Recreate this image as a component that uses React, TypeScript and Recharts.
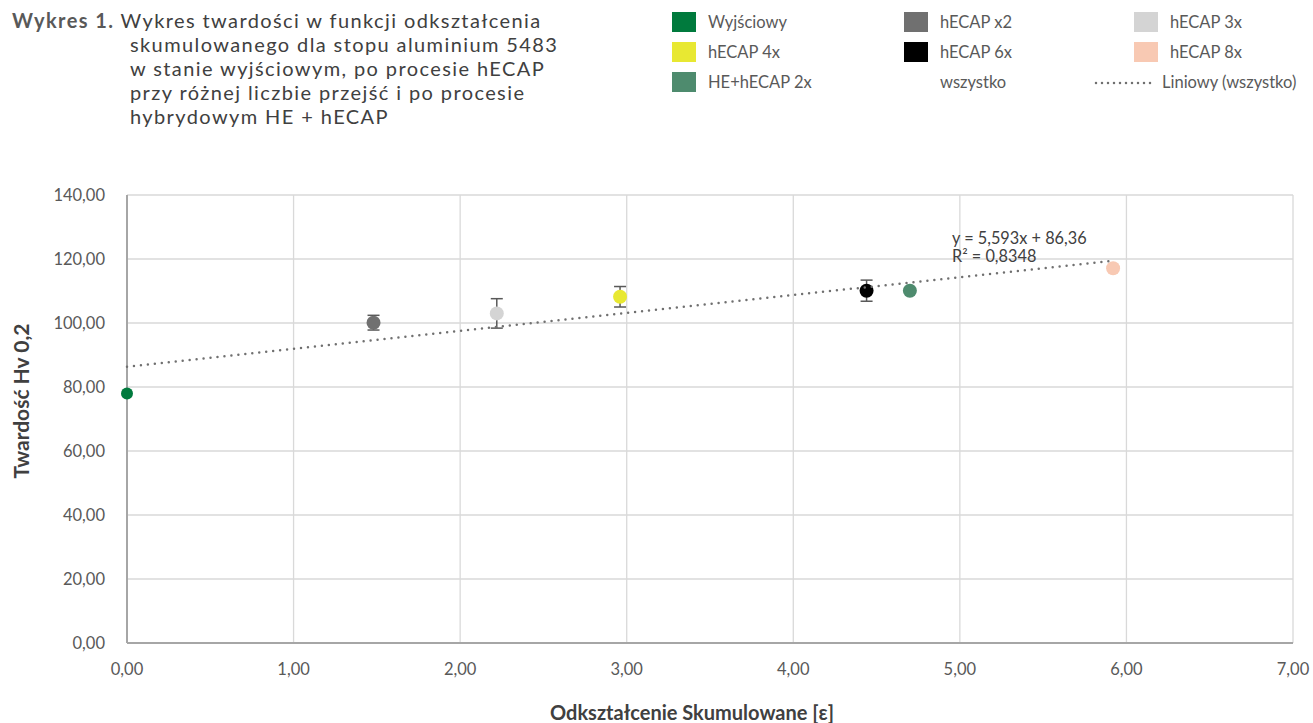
import React from 'react';
import {
  ScatterChart,
  Scatter,
  XAxis,
  YAxis,
  CartesianGrid,
  ErrorBar
} from 'recharts';

// measured points (strain, hardness, +/- error)
const seriesNames = ['Wyjściowy', 'hECAP x2', 'hECAP 3x', 'hECAP 4x', 'hECAP 6x', 'hECAP 8x', 'HE+hECAP 2x'];
const strainValues = [0.0, 1.48, 2.22, 2.96, 4.44, 5.92, 4.7];
const hardnessValues = [78.0, 100.1, 103.0, 108.2, 110.1, 117.1, 110.1];
const hardnessErrors = [0, 2.3, 4.6, 3.2, 3.3, 0, 0];
const seriesColors = ['#007A3D', '#707070', '#D4D4D4', '#E8E832', '#000000', '#F8C9B3', '#4E8B6E'];
const markerRadius = [6, 7, 7, 7, 7, 7, 7];

// linear trend of all points
const trendSlope = 5.593;
const trendIntercept = 86.36;
const trendFrom = 0;
const trendTo = 5.92;

const xTicks = [0, 1, 2, 3, 4, 5, 6, 7];
const yTicks = [0, 20, 40, 60, 80, 100, 120, 140];

const titleLines = [
  'skumulowanego dla stopu aluminium 5483',
  'w stanie wyjściowym, po procesie hECAP',
  'przy różnej liczbie przejść i po procesie',
  'hybrydowym HE + hECAP'
];

const legendOrder = [
  'Wyjściowy', 'hECAP x2', 'hECAP 3x',
  'hECAP 4x', 'hECAP 6x', 'hECAP 8x',
  'HE+hECAP 2x', 'wszystko', 'Liniowy (wszystko)'
];

const FONT = 'Lato, "Open Sans", sans-serif';
const TEXT = '#595959';

const fmt = (v: number) => v.toFixed(2).replace('.', ',');

const Dot = (r: number) => (props: any) => {
  const { cx, cy, fill } = props;
  if (cx == null || cy == null) return <g />;
  return <circle cx={cx} cy={cy} r={r} fill={fill} />;
};

const Legend = () => {
  const colX = [672, 904, 1134];
  const rowY = [12, 42, 72];
  return (
    <>
      {legendOrder.map((name, i) => {
        const col = i % 3;
        const row = Math.floor(i / 3);
        const idx = seriesNames.indexOf(name);
        return (
          <div
            key={name}
            style={{
              position: 'absolute',
              left: colX[col],
              top: rowY[row],
              height: 20,
              display: 'flex',
              alignItems: 'center',
              fontFamily: FONT,
              fontSize: 16.5,
              color: TEXT,
              whiteSpace: 'nowrap'
            }}
          >
            {idx >= 0 ? (
              <span style={{ width: 24, height: 20, background: seriesColors[idx], marginRight: 12, display: 'inline-block' }} />
            ) : name === 'Liniowy (wszystko)' ? (
              <svg width={66} height={20} style={{ marginRight: 2, marginLeft: -40 }}>
                <line x1={2} y1={11} x2={62} y2={11} stroke="#707070" strokeWidth={2.5} strokeDasharray="0 6" strokeLinecap="round" />
              </svg>
            ) : (
              <span style={{ width: 24, height: 20, marginRight: 12, display: 'inline-block' }} />
            )}
            {name}
          </div>
        );
      })}
    </>
  );
};

export default function App() {
  const trendData = [
    { x: trendFrom, y: trendIntercept + trendSlope * trendFrom },
    { x: trendTo, y: trendIntercept + trendSlope * trendTo }
  ];

  return (
    <div style={{ position: 'absolute', left: 0, top: 0, width: 1313, height: 723, background: '#fff', fontFamily: FONT }}>
      <div style={{ position: 'absolute', left: 12, top: 8, fontSize: 20, letterSpacing: 1.4, color: '#404040' }}>
        <div style={{ height: 24, lineHeight: '24px', whiteSpace: 'nowrap' }}>
          <b style={{ color: TEXT }}>Wykres 1.</b> Wykres twardości w funkcji odkształcenia
        </div>
        {titleLines.map((t) => (
          <div key={t} style={{ height: 24, lineHeight: '24px', paddingLeft: 118, whiteSpace: 'nowrap' }}>
            {t}
          </div>
        ))}
      </div>

      <Legend />

      <ScatterChart width={1313} height={723} margin={{ top: 195, right: 20, left: 0, bottom: 0 }}>
        <CartesianGrid stroke="#D9D9D9" strokeWidth={1.3} />
        <XAxis
          type="number"
          dataKey="x"
          domain={[0, 7]}
          ticks={xTicks}
          tickFormatter={fmt}
          height={80}
          axisLine={{ stroke: '#A6A6A6', strokeWidth: 2 }}
          tickLine={false}
          tickSize={0}
          tickMargin={20}
          tick={{ fill: TEXT, fontSize: 16.5, fontFamily: FONT }}
        />
        <YAxis
          type="number"
          dataKey="y"
          domain={[0, 140]}
          ticks={yTicks}
          tickFormatter={fmt}
          width={127}
          axisLine={{ stroke: '#A6A6A6', strokeWidth: 2 }}
          tickLine={false}
          tickSize={0}
          tickMargin={22}
          tick={{ fill: TEXT, fontSize: 16.5, fontFamily: FONT }}
        />
        {seriesNames.map((name, i) => (
          <Scatter
            key={name}
            name={name}
            data={[{ x: strainValues[i], y: hardnessValues[i], err: hardnessErrors[i] }]}
            fill={seriesColors[i]}
            shape={Dot(markerRadius[i])}
            isAnimationActive={false}
          >
            {hardnessErrors[i] > 0 && (
              <ErrorBar dataKey="err" direction="y" width={6} stroke="#595959" strokeWidth={1.5} />
            )}
          </Scatter>
        ))}
        <Scatter
          name="Liniowy (wszystko)"
          data={trendData}
          fill="none"
          line={{ stroke: '#707070', strokeWidth: 2.5, strokeDasharray: '0 7', strokeLinecap: 'round' }}
          shape={() => <g />}
          isAnimationActive={false}
        />
      </ScatterChart>

      <div style={{ position: 'absolute', left: 952, top: 229, fontSize: 16.3, lineHeight: '18px', color: '#404040' }}>
        y = 5,593x + 86,36
        <br />
        R² = 0,8348
      </div>

      <div
        style={{
          position: 'absolute',
          left: 20,
          top: 401,
          transform: 'translate(-50%, -50%) rotate(-90deg)',
          fontSize: 21,
          fontWeight: 700,
          color: '#404040',
          whiteSpace: 'nowrap'
        }}
      >
        Twardość Hv 0,2
      </div>
      <div
        style={{
          position: 'absolute',
          left: 692,
          top: 712,
          transform: 'translate(-50%, -50%)',
          fontSize: 20,
          fontWeight: 700,
          color: '#404040',
          whiteSpace: 'nowrap'
        }}
      >
        Odkształcenie Skumulowane [ε]
      </div>
    </div>
  );
}
